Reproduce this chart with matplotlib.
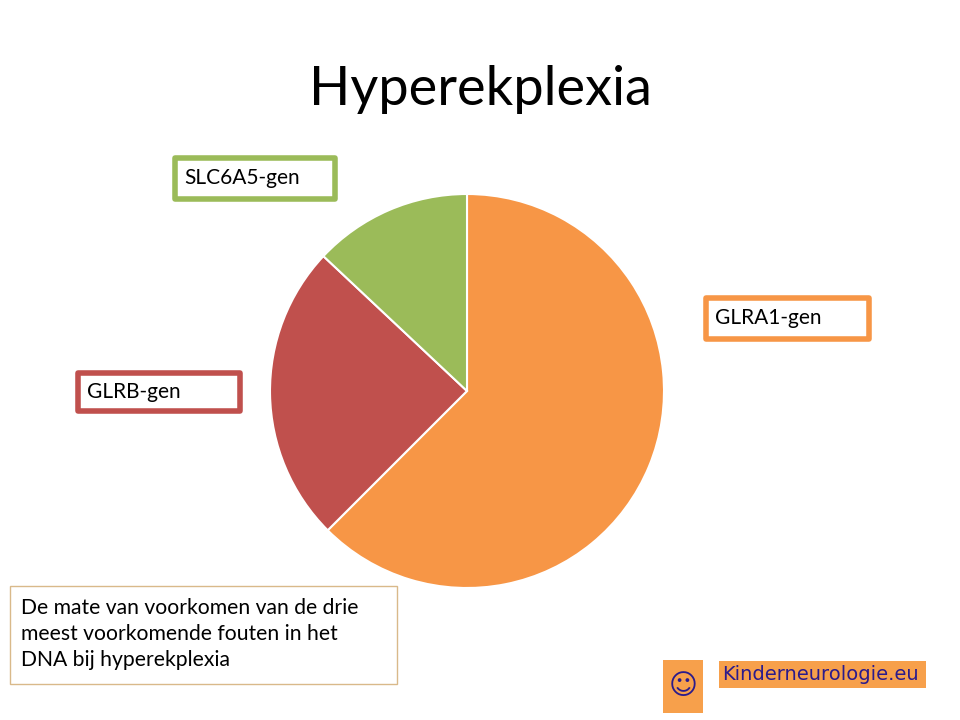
import matplotlib.pyplot as plt
from matplotlib.patches import Rectangle

plt.rcParams['font.family'] = ['Lato', 'DejaVu Sans']

TITLE = "Hyperekplexia"
genes = ["GLRA1-gen", "GLRB-gen", "SLC6A5-gen"]
shares = [62.5, 24.5, 13]
colors = ["#F79646", "#C0504D", "#9BBB59"]
note = "De mate van voorkomen van de drie\nmeest voorkomende fouten in het\nDNA bij hyperekplexia"
logo_text = "Kinderneurologie.eu"

fig = plt.figure(figsize=(9.6, 7.2), dpi=100)

# overlay in pixel coordinates for boxes and text
bg = fig.add_axes([0, 0, 1, 1])
bg.set_xlim(0, 960)
bg.set_ylim(720, 0)
bg.axis("off")

bg.text(480, 90, TITLE, fontsize=39, ha="center", va="center", color="black")

# pie: centre (467, 391), radius 197 px
cx, cy, r = 467, 391, 197
ax = fig.add_axes([(cx - r) / 960, (720 - cy - r) / 720, 2 * r / 960, 2 * r / 720])
ax.pie(shares, colors=colors, startangle=90, counterclock=False,
       wedgeprops=dict(edgecolor="white", linewidth=1.5))
ax.set_xlim(-1, 1)
ax.set_ylim(-1, 1)
ax.set_aspect("equal")

# label boxes (x0, y0, x1, y1) in pixels
boxes = [(706, 298, 869, 339), (78, 373, 240, 411), (175, 158, 335, 199)]
for (x0, y0, x1, y1), g, c in zip(boxes, genes, colors):
    bg.add_patch(Rectangle((x0, y0), x1 - x0, y1 - y0, facecolor="white",
                           edgecolor=c, linewidth=4, joinstyle="round"))
    bg.text(x0 + 9, (y0 + y1) / 2, g, fontsize=15, ha="left", va="center")

# note box
bg.add_patch(Rectangle((10, 586), 387, 98, facecolor="white",
                       edgecolor="#D9B98A", linewidth=1))
bg.text(21, 634, note, fontsize=15.2, ha="left", va="center", linespacing=1.38)

# logo
bg.add_patch(Rectangle((663, 660), 40, 53, facecolor="#F7A04B", edgecolor="none"))
bg.text(683, 686, "\u263A", fontsize=20, ha="center", va="center", color="#2B1B8C")
bg.add_patch(Rectangle((719, 661), 207, 27, facecolor="#F7A04B", edgecolor="none"))
bg.text(722, 674.5, logo_text, fontsize=14, ha="left", va="center",
        color="#2B1B8C", family=["DejaVu Sans"], fontweight="medium")

fig.savefig("out.png", dpi=100)
